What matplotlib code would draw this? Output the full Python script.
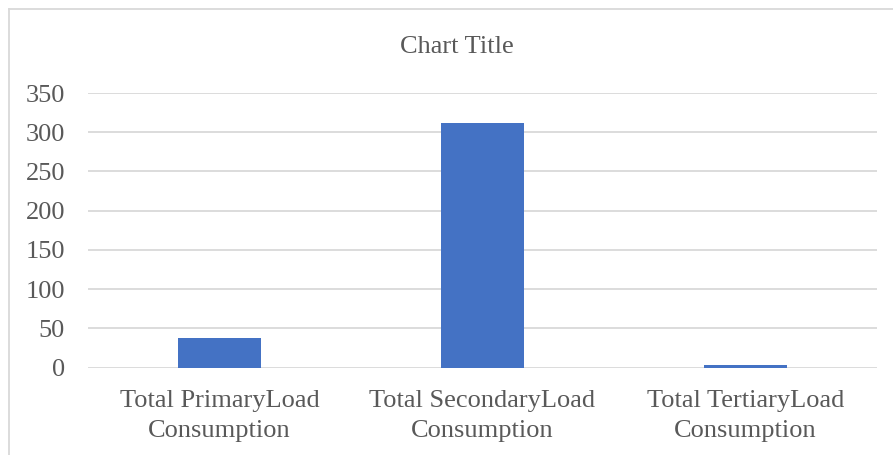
import matplotlib
matplotlib.use("Agg")
import matplotlib.pyplot as plt
from matplotlib.lines import Line2D

categories = ["Total PrimaryLoad\nConsumption",
              "Total SecondaryLoad\nConsumption",
              "Total TertiaryLoad\nConsumption"]
values = [37, 312, 3]
yticks = [0, 50, 100, 150, 200, 250, 300, 350]
title = "Chart Title"

W, H = 893, 455
plt.rcParams['font.family'] = ['Liberation Serif', 'DejaVu Serif']
text_color = "#595959"
grid_color = "#D9D9D9"
bar_color = "#4472C4"

fig = plt.figure(figsize=(W / 100, H / 100), dpi=100)
ax = fig.add_axes([88 / W, (H - 367.5) / H, (877 - 88) / W, (367.5 - 93) / H])

x = range(len(categories))
ax.bar(x, values, width=0.312, color=bar_color, zorder=3)
ax.set_xlim(-0.5, len(categories) - 0.5)
ax.set_ylim(0, 350)
ax.set_yticks(yticks)
ax.set_xticks(list(x))
ax.set_xticklabels(categories, linespacing=1.43)
ax.tick_params(axis='both', length=0, labelsize=19, colors=text_color)
ax.tick_params(axis='y', pad=16.5)
ax.tick_params(axis='x', pad=16.5)
for s in ax.spines.values():
    s.set_visible(False)
ax.yaxis.grid(True, color=grid_color, linewidth=1.3, zorder=0)
ax.set_axisbelow(True)

fig.text(457 / W, 1 - 47 / H, title, ha='center', va='center',
         fontsize=19, color=text_color)

# chart area border (partially visible)
fig.add_artist(Line2D([9 / W, 1.0], [1 - 9 / H, 1 - 9 / H], transform=fig.transFigure,
                      color=grid_color, linewidth=1.3))
fig.add_artist(Line2D([9 / W, 9 / W], [1 - 9 / H, 0.0], transform=fig.transFigure,
                      color=grid_color, linewidth=1.3))

fig.savefig("out.png", dpi=100)
